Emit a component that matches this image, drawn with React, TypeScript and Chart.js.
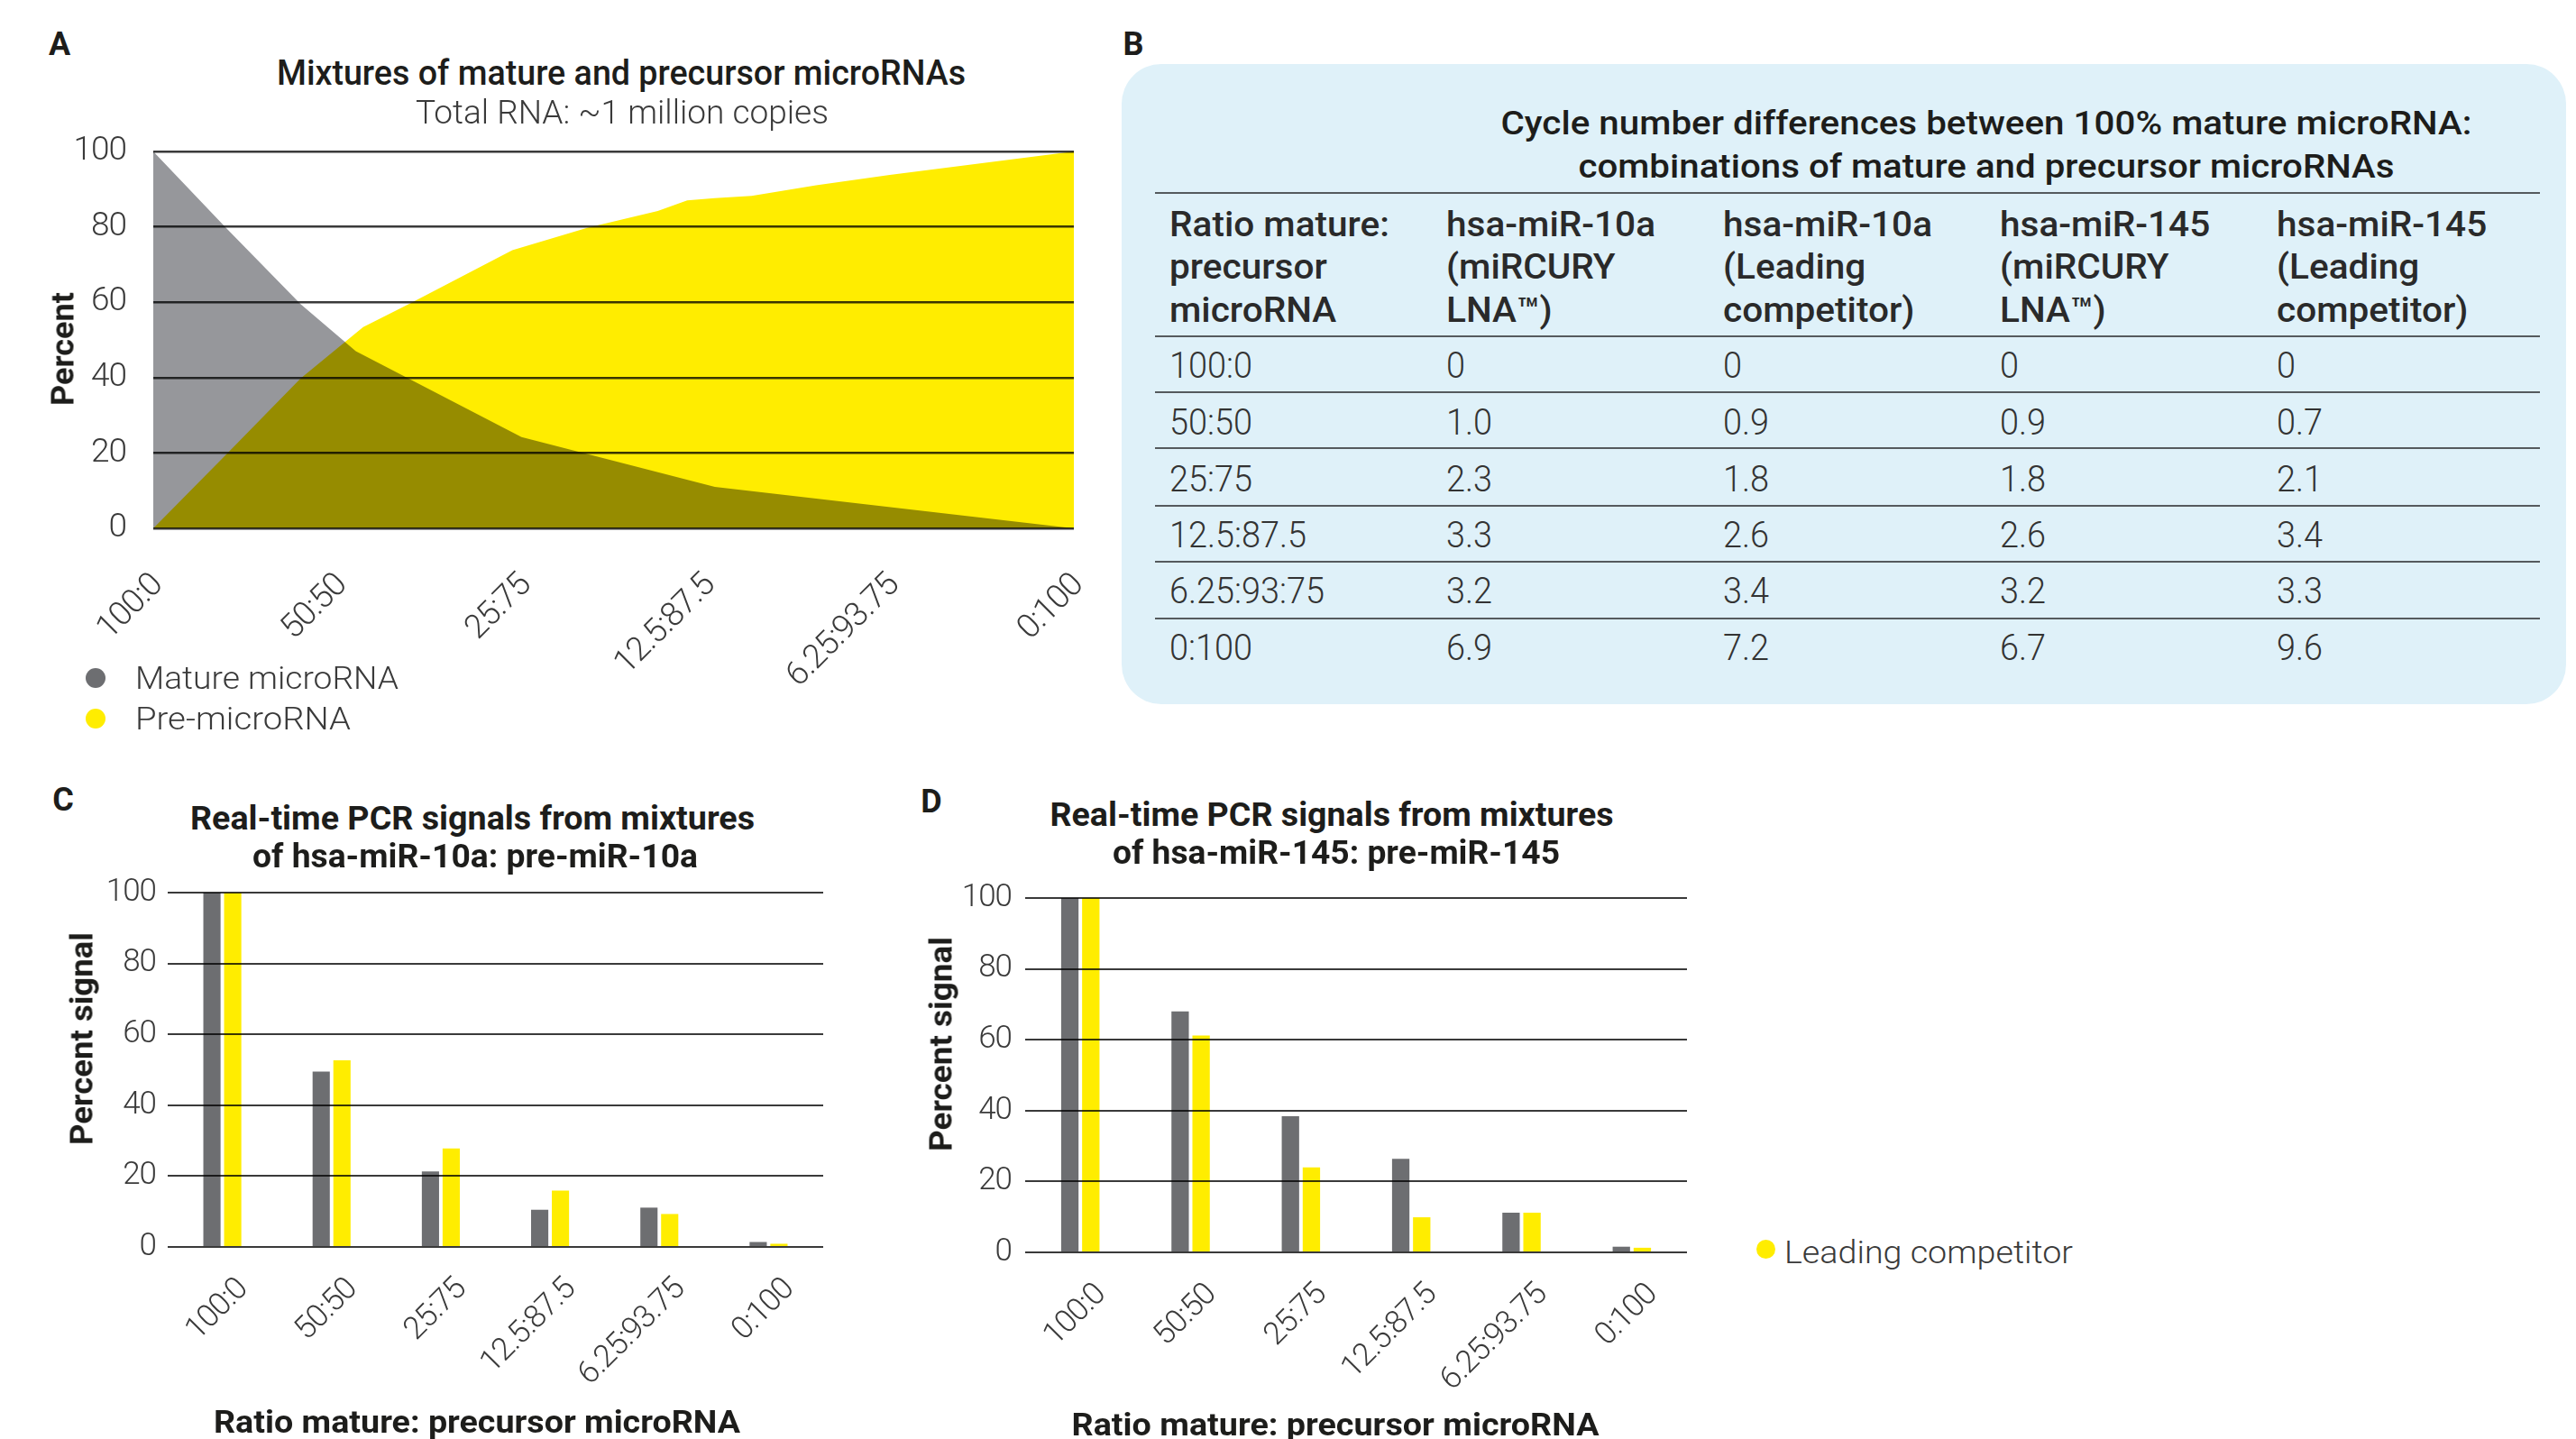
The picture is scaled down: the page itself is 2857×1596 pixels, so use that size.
import React, { useEffect, useRef } from 'react';
import { Chart, registerables } from 'chart.js';

Chart.register(...registerables);

const SANS = "Roboto, 'Liberation Sans', Arial, sans-serif";
const INK = '#1d1d1b';
const TICK_INK = '#3a3a3a';
const GREY = '#6d6e71';
const AREA_GREY = '#96979b';
const YELLOW = '#ffed00';
const GRID = '#3a3a3a';
const CLEAR = 'rgba(0,0,0,0)';

// ---------- Panel A: mixtures of mature and precursor microRNAs ----------
const mixLabels = ['100:0', '50:50', '25:75', '12.5:87.5', '6.25:93.75', '0:100'];
const matureX = [0, 0.4, 0.8, 1.1, 2.0, 3.05, 5];
const matureY = [100, 79.5, 59.5, 47, 24.2, 11, 0];
const preX = [0, 0.4, 0.8, 1.14, 1.4, 1.95, 2.36, 2.74, 2.9, 3.05, 3.25, 3.6, 4.0, 5];
const preY = [0, 19.8, 39.8, 53.4, 59.8, 73.8, 79.8, 84.2, 87, 87.6, 88.2, 91, 93.8, 100];
const areaNames = ['Mature microRNA', 'Pre-microRNA'];

// ---------- Panel B: table ----------
const tableTitle = [
  'Cycle number differences between 100% mature microRNA:',
  'combinations of mature and precursor microRNAs',
];
const tableHeaders = [
  ['Ratio mature:', 'precursor', 'microRNA'],
  ['hsa-miR-10a', '(miRCURY', 'LNA™)'],
  ['hsa-miR-10a', '(Leading', 'competitor)'],
  ['hsa-miR-145', '(miRCURY', 'LNA™)'],
  ['hsa-miR-145', '(Leading', 'competitor)'],
];
const tableRatios = ['100:0', '50:50', '25:75', '12.5:87.5', '6.25:93:75', '0:100'];
const mir10aLna = [0, 1.0, 2.3, 3.3, 3.2, 6.9];
const mir10aComp = [0, 0.9, 1.8, 2.6, 3.4, 7.2];
const mir145Lna = [0, 0.9, 1.8, 2.6, 3.2, 6.7];
const mir145Comp = [0, 0.7, 2.1, 3.4, 3.3, 9.6];

// ---------- Panels C and D: bar charts ----------
const seriesNames = ['miRCURY LNA™', 'Leading competitor'];
const c10aLna = [100, 49.5, 21.3, 10.5, 11.1, 1.4];
const c10aComp = [100, 52.7, 27.8, 15.9, 9.3, 0.9];
const d145Lna = [100, 68, 38.4, 26.4, 11.2, 1.6];
const d145Comp = [100, 61.2, 24, 9.9, 11.2, 1.3];

const fmt = (v: number) => (v === 0 ? '0' : v.toFixed(1));

let mctx: CanvasRenderingContext2D | null = null;
function textWidth(t: string, font: string) {
  if (!mctx) mctx = document.createElement('canvas').getContext('2d');
  mctx!.font = font;
  return mctx!.measureText(t).width;
}

type TxtProps = {
  t: string; x: number; y: number; size: number; weight?: number; w?: number; sx?: number;
  align?: 'left' | 'center' | 'right'; rot?: number; color?: string; family?: string;
};
function Txt({ t, x, y, size, weight = 400, w, sx, align = 'left', rot = 0, color = INK, family = SANS }: TxtProps) {
  const font = `${weight} ${size}px ${family}`;
  const s = sx !== undefined ? sx : w ? w / textWidth(t, font) : 1;
  const tx = align === 'left' ? '0' : align === 'center' ? '-50%' : '-100%';
  const ox = align === 'left' ? '0' : align === 'center' ? '50%' : '100%';
  return (
    <div
      style={{
        position: 'absolute', left: x, top: y, fontFamily: family, fontSize: size, fontWeight: weight,
        color, lineHeight: 1, whiteSpace: 'nowrap', transformOrigin: `${ox} 50%`,
        transform: `translate(${tx}, -50%) rotate(${rot}deg) scaleX(${s})`,
      }}
    >
      {t}
    </div>
  );
}

function Dot({ x, y, r, color }: { x: number; y: number; r: number; color: string }) {
  return (
    <div style={{ position: 'absolute', left: x - r, top: y - r, width: 2 * r, height: 2 * r, borderRadius: '50%', background: color }} />
  );
}

function Rule({ x1, x2, y }: { x1: number; x2: number; y: number }) {
  return <div style={{ position: 'absolute', left: x1, top: y - 1, width: x2 - x1, height: 2, background: '#555a5e' }} />;
}

function ChartCanvas({ left, top, width, height, build }: { left: number; top: number; width: number; height: number; build: () => any }) {
  const ref = useRef<HTMLCanvasElement>(null);
  useEffect(() => {
    const chart = new Chart(ref.current as HTMLCanvasElement, build());
    return () => chart.destroy();
  }, []);
  return <canvas ref={ref} width={width} height={height} style={{ position: 'absolute', left, top, width, height }} />;
}

// multiply blending (grey x yellow = olive overlap) and slightly tighter tick-label spacing
const drawStylePlugin = {
  id: 'drawStyle',
  beforeDraw(chart: any) {
    const ctx = chart.ctx;
    ctx.save();
    ctx.globalCompositeOperation = 'multiply';
    try { (ctx as any).letterSpacing = '-1px'; } catch (e) { /* ignore */ }
  },
  afterDraw(chart: any) {
    chart.ctx.restore();
  },
};

const tickFont = (size: number) => ({ family: SANS, size, weight: 300 as any });

function areaConfig() {
  return {
    type: 'line',
    data: {
      datasets: [
        {
          label: areaNames[0],
          data: matureX.map((x, i) => ({ x, y: matureY[i] })),
          fill: 'origin', backgroundColor: AREA_GREY, borderWidth: 0, pointRadius: 0, tension: 0,
        },
        {
          label: areaNames[1],
          data: preX.map((x, i) => ({ x, y: preY[i] })),
          fill: 'origin', backgroundColor: YELLOW, borderWidth: 0, pointRadius: 0, tension: 0,
        },
      ],
    },
    options: {
      responsive: false, animation: false, devicePixelRatio: 1,
      layout: { padding: { top: 28, right: 49, left: 0, bottom: 0 } },
      plugins: { legend: { display: false }, tooltip: { enabled: false } },
      scales: {
        x: {
          type: 'linear', min: 0, max: 5, offset: false,
          grid: { display: true, drawOnChartArea: false, drawTicks: true, tickLength: 42, color: CLEAR, tickColor: CLEAR },
          border: { display: false },
          ticks: {
            stepSize: 1, autoSkip: false, minRotation: 45, maxRotation: 45, padding: 0, labelOffset: 5,
            callback: (v: number) => mixLabels[v], color: TICK_INK, font: tickFont(37),
          },
          afterFit: (s: any) => { s.height = 204; },
        },
        y: {
          min: 0, max: 100,
          grid: { color: GRID, lineWidth: 2.5, z: 1, drawTicks: true, tickLength: 30, tickColor: CLEAR },
          border: { display: false },
          ticks: { stepSize: 20, padding: 0, color: TICK_INK, font: tickFont(37) },
          afterFit: (s: any) => { s.width = 170; },
        },
      },
    },
    plugins: [drawStylePlugin],
  };
}

function barConfig(lna: number[], comp: number[], yWidth: number, xHeight: number, padTop: number, padRight: number, yPad: number) {
  return {
    type: 'bar',
    data: {
      labels: mixLabels,
      datasets: [
        { label: seriesNames[0], data: lna, backgroundColor: GREY, categoryPercentage: 0.38, barPercentage: 0.83 },
        { label: seriesNames[1], data: comp, backgroundColor: YELLOW, categoryPercentage: 0.38, barPercentage: 0.83 },
      ],
    },
    options: {
      responsive: false, animation: false, devicePixelRatio: 1,
      layout: { padding: { top: padTop, right: padRight, left: 0, bottom: 0 } },
      plugins: { legend: { display: false }, tooltip: { enabled: false } },
      scales: {
        x: {
          grid: { display: true, drawOnChartArea: false, drawTicks: true, tickLength: 27, color: CLEAR, tickColor: CLEAR },
          border: { display: false },
          ticks: {
            autoSkip: false, minRotation: 45, maxRotation: 45, padding: 0, labelOffset: 23,
            color: TICK_INK, font: tickFont(35),
          },
          afterFit: (s: any) => { s.height = xHeight; },
        },
        y: {
          min: 0, max: 100,
          grid: { color: GRID, lineWidth: 2, drawTicks: true, tickLength: yPad, tickColor: CLEAR },
          border: { display: false },
          ticks: { stepSize: 20, padding: 0, color: TICK_INK, font: tickFont(35) },
          afterFit: (s: any) => { s.width = yWidth; },
        },
      },
    },
    plugins: [drawStylePlugin],
  };
}

const colX = [1297, 1604, 1911, 2218, 2525];
const headY = [249, 296, 344];
const rowY = [406, 469, 532, 594, 656, 719];
const ruleY = [214, 373, 435, 497, 561, 623, 686];

export default function App() {
  const tableCols = [tableRatios, mir10aLna.map(fmt), mir10aComp.map(fmt), mir145Lna.map(fmt), mir145Comp.map(fmt)];
  const headSx = 244 / textWidth(tableHeaders[0][0], `500 38px ${SANS}`);
  const bodySx = 172 / textWidth(tableRatios[4], `300 40px ${SANS}`);

  return (
    <div style={{ position: 'absolute', left: 0, top: 0, width: 2857, height: 1596, overflow: 'hidden', background: '#fff' }}>
      {/* Panel A */}
      <ChartCanvas left={0} top={140} width={1240} height={650} build={areaConfig} />
      <Txt t="A" x={66} y={49} size={36} weight={700} align="center" />
      <Txt t="Mixtures of mature and precursor microRNAs" x={689} y={81} size={38} weight={500} w={764} align="center" />
      <Txt t="Total RNA: ~1 million copies" x={690} y={124} size={37} weight={300} w={458} align="center" color="#3a3a3a" />
      <Txt t="Percent" x={70} y={387} size={35} weight={700} w={126} align="center" rot={-90} />
      <Dot x={106} y={752} r={11} color={GREY} />
      <Txt t={areaNames[0]} x={150} y={752} size={35} weight={300} w={292} color="#3a3a3a" />
      <Dot x={106} y={797} r={11} color={YELLOW} />
      <Txt t={areaNames[1]} x={150} y={797} size={35} weight={300} w={239} color="#3a3a3a" />

      {/* Panel B */}
      <Txt t="B" x={1257} y={49} size={36} weight={700} align="center" />
      <div style={{ position: 'absolute', left: 1244, top: 71, width: 1602, height: 710, borderRadius: 44, background: '#dff1f9' }} />
      <Txt t={tableTitle[0]} x={2203} y={137} size={36} weight={500} w={1077} align="center" />
      <Txt t={tableTitle[1]} x={2203} y={185} size={36} weight={500} w={905} align="center" />
      {ruleY.map((y, i) => (
        <Rule key={'r' + i} x1={1281} x2={2817} y={y} />
      ))}
      {tableHeaders.map((lines, c) =>
        lines.map((line, r) => (
          <Txt key={`h${c}-${r}`} t={line} x={colX[c]} y={headY[r]} size={38} weight={500} sx={headSx} color="#2a2a2a" />
        ))
      )}
      {tableCols.map((col, c) =>
        col.map((v, r) => (
          <Txt key={`b${c}-${r}`} t={v} x={colX[c]} y={rowY[r]} size={40} weight={300} sx={bodySx} color="#333" />
        ))
      )}

      {/* Panel C */}
      <ChartCanvas left={0} top={960} width={960} height={636} build={() => barConfig(c10aLna, c10aComp, 186, 213, 30, 47, 13)} />
      <Txt t="C" x={70} y={887} size={36} weight={700} align="center" />
      <Txt t="Real-time PCR signals from mixtures" x={524} y={908} size={36} weight={700} w={626} align="center" />
      <Txt t="of hsa-miR-10a: pre-miR-10a" x={527} y={950} size={36} weight={700} w={494} align="center" />
      <Txt t="Percent signal" x={91} y={1152} size={35} weight={700} w={236} align="center" rot={-90} />
      <Txt t="Ratio mature: precursor microRNA" x={529} y={1577} size={35} weight={700} w={584} align="center" />

      {/* Panel D */}
      <ChartCanvas left={960} top={965} width={960} height={631} build={() => barConfig(d145Lna, d145Comp, 177, 207, 31, 49, 15)} />
      <Txt t="D" x={1033} y={889} size={36} weight={700} align="center" />
      <Txt t="Real-time PCR signals from mixtures" x={1477} y={904} size={36} weight={700} w={625} align="center" />
      <Txt t="of hsa-miR-145: pre-miR-145" x={1482} y={946} size={36} weight={700} w={496} align="center" />
      <Txt t="Percent signal" x={1044} y={1158} size={35} weight={700} w={238} align="center" rot={-90} />
      <Txt t="Ratio mature: precursor microRNA" x={1481} y={1580} size={35} weight={700} w={585} align="center" />
      <Dot x={1958} y={1385} r={10.5} color={YELLOW} />
      <Txt t={seriesNames[1]} x={1979} y={1389} size={35} weight={300} w={320} color="#3a3a3a" />
    </div>
  );
}
